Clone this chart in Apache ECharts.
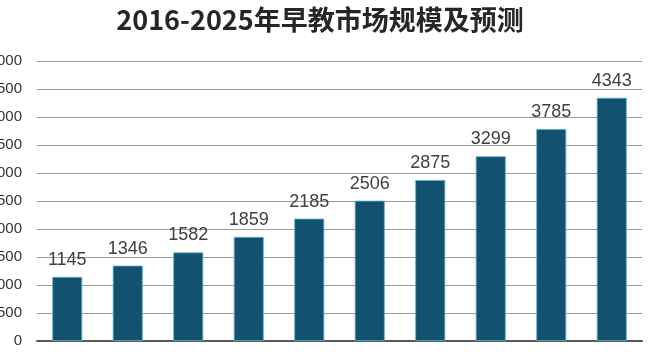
<!DOCTYPE html>
<html><head><meta charset="utf-8">
<script src="https://cdn.jsdelivr.net/npm/echarts@6/dist/echarts.min.js"></script>
<style>html,body{margin:0;padding:0;background:#fff}#c{width:655px;height:355px}</style>
</head><body><div id="c"></div>
<script>
const categories = ['2016','2017','2018','2019','2020','2021','2022','2023','2024','2025'];
const marketSize = [1145, 1346, 1582, 1859, 2185, 2506, 2875, 3299, 3785, 4343];
const titleText = '2016-2025年早教市场规模及预测';

const chart = echarts.init(document.getElementById('c'), null, {renderer: 'canvas'});
chart.setOption({
  animation: false,
  backgroundColor: '#fff',
  title: {
    text: titleText, left: 315, textAlign: 'center', top: 1,
    textStyle: {fontFamily: 'Noto Sans CJK SC', fontWeight: 'bold', fontSize: 27, color: '#262626'}
  },
  grid: {left: 37, right: 13, top: 61, bottom: 14, containLabel: false, outerBoundsMode: 'none'},
  xAxis: {
    type: 'category', data: categories,
    axisLine: {lineStyle: {color: '#595959', width: 2}},
    axisTick: {show: false},
    axisLabel: {show: false}
  },
  yAxis: {
    type: 'value', min: 0, max: 5000, interval: 500,
    axisLine: {show: false}, axisTick: {show: false},
    axisLabel: {margin: 15, fontFamily: 'Liberation Sans', fontSize: 15, color: '#333', formatter: v => String(v)},
    splitLine: {lineStyle: {color: '#9a9a9a', width: 1}}
  },
  series: [{
    type: 'bar', data: marketSize, barWidth: 30,
    itemStyle: {color: '#135171', borderColor: '#5fb8cc', borderWidth: 0.8},
    label: {show: true, position: 'top', distance: 8, fontFamily: 'Liberation Sans', fontSize: 18, color: '#404040'}
  }]
});
</script></body></html>
